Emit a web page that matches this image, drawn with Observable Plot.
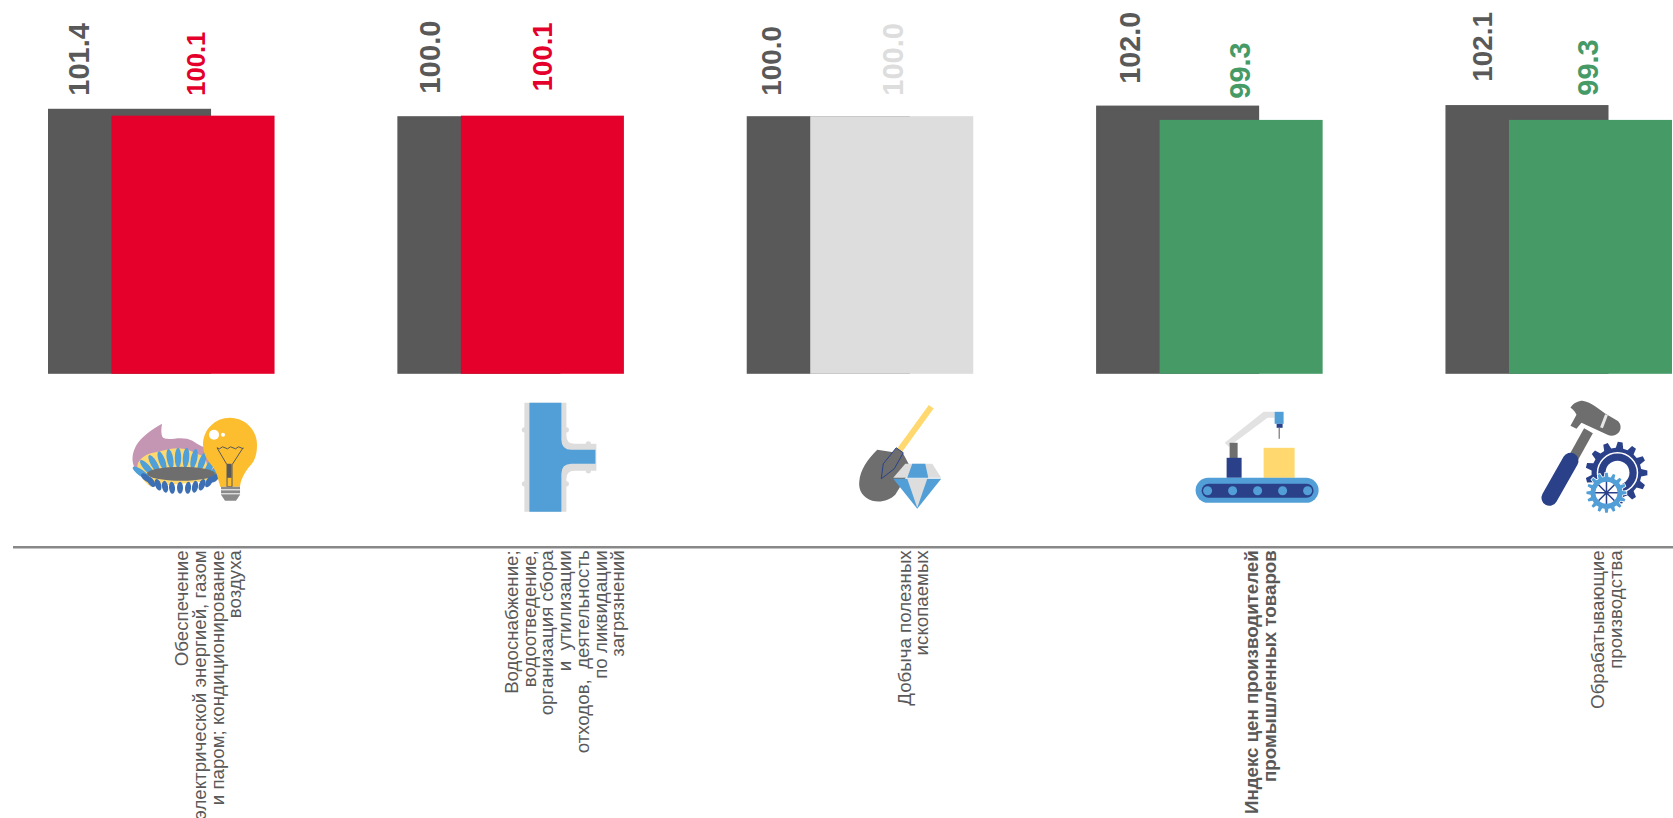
<!DOCTYPE html>
<html><head><meta charset="utf-8">
<style>html,body{margin:0;padding:0;background:#fff;overflow:hidden}svg{display:block}</style>
<script src="https://cdn.jsdelivr.net/npm/d3@7"></script>
<script src="https://cdn.jsdelivr.net/npm/@observablehq/plot@0.6"></script>
</head><body><script>
const categories = ["electricity","water","mining","total","manufacturing"];
const previousValues = [101.4,100.0,100.0,102.0,102.1];
const currentValues = [100.1,100.1,100.0,99.3,99.3];
const previousLabels = ["101.4","100.0","100.0","102.0","102.1"];
const currentLabels = ["100.1","100.1","100.0","99.3","99.3"];
const axisLabels = [
 "Обеспечение\nэлектрической энергией, газом\nи паром; кондиционирование\nвоздуха",
 "Водоснабжение;\nводоотведение,\nорганизация сбора\nи\u00a0\u00a0утилизации\nотходов,\u00a0\u00a0деятельность\nпо ликвидации\nзагрязнений",
 "Добыча полезных\nископаемых",
 "Индекс цен производителей\nпромышленных товаров",
 "Обрабатывающие\nпроизводства"];
const dark="#595959", red="#e4002b", light="#dddddd", green="#459a66";
const barColor = v => v>100?red:v<100?green:light;
const baseValue = 51.42;

// decorative icon helpers
function gear(cx,cy,ro,ri,n){
  const pts=[];
  for(let k=0;k<n;k++){
    const a=k/n*2*Math.PI, w=Math.PI/n;
    [[-0.62,ri],[-0.32,ro],[0.32,ro],[0.62,ri]].forEach(([f,r])=>{
      const t=a+f*w; pts.push((cx+r*Math.cos(t)).toFixed(1)+" "+(cy+r*Math.sin(t)).toFixed(1));
    });
  }
  return "M"+pts.join("L")+"Z";
}
const upperFlames=[[141,472,-55],[147,467,-42],[154,463,-30],[162,460,-20],[170,458,-10],[178,457,0],[186,457,5],[194,458,12],[202,461,20],[210,465,30],[216,469,40]]
  .map(([x,y,r])=>`<ellipse cx="${x}" cy="${y}" rx="3.2" ry="10" fill="#4f9fd8" transform="rotate(${r} ${x} ${y})"/>`).join("");
const lowerFlames=[[146,477,-50],[151,481,-35],[158,484,-20],[165,486,-10],[172,487,-5],[180,487,0],[188,487,5],[195,486,10],[202,484,20],[209,481,30],[215,477,45]]
  .map(([x,y,r])=>`<ellipse cx="${x}" cy="${y}" rx="3" ry="6" fill="#3d6fb4" transform="rotate(${r} ${x} ${y})"/>`).join("");
const icons = [
`<svg xmlns="http://www.w3.org/2000/svg" viewBox="130 400 140 110"><path d="M162 423c-1 6 -1 11 1 14 6 3 14 -1 24 1 8 2 12 8 20 9l8 30-60 6c-8-2-16-8-20-15-4-8 -3 -15 1-23 5-9 17-17 26-22z" fill="#c596b3"/><path d="M138 462c4-6 9-9 15-10 10-2 20-6 30-4 8 1 14 6 22 8l6 24-60 6c-5-3-9-8-12-14-2-4-2-7-1-10z" fill="#ffd970"/>${upperFlames}<ellipse cx="181" cy="473" rx="34" ry="7" fill="#6e6e6e"/>${lowerFlames}<path d="M230 417c-15 0-27 12-27 27 0 9 4 15 9 21 3 4 5 8 6 13 1 4 2 6 2 8h20c0-3 1-5 2-8 2-5 5-10 9-14 5-6 6-13 6-20 0-15-12-27-27-27z" fill="#fcbd2f"/><circle cx="214" cy="434" r="5" fill="#fff"/><circle cx="223" cy="434" r="2" fill="#fff"/><path d="M217 447q3 2 4 0t4 0 4 0 4 0 4 0 4 0 2 0l-11 17v22h-5v-22z" fill="none" stroke="#595959" stroke-width="1"/><rect x="227" y="463" width="4.5" height="14" fill="#595959"/><path d="M221 486h19v8l-4 6h-11l-4-6z" fill="#8a8a8a"/><path d="M220 489h20M220 493h20" stroke="#fff" stroke-width="1"/></svg>`,
`<svg xmlns="http://www.w3.org/2000/svg" viewBox="510 395 100 120"><path d="M524 402h42v33q0 8 8 8h22v27h-22q-8 0-8 8v33h-42z" fill="#dddddd"/><circle cx="524" cy="429" r="2.6" fill="#dddddd"/><circle cx="566" cy="429" r="2.6" fill="#dddddd"/><circle cx="524" cy="483" r="2.6" fill="#dddddd"/><circle cx="566" cy="483" r="2.6" fill="#dddddd"/><circle cx="588" cy="443" r="2.6" fill="#dddddd"/><circle cx="588" cy="470" r="2.6" fill="#dddddd"/><path d="M529 402h32v37q0 10 10 10h24v14h-24q-10 0-10 10v38h-32z" fill="#529fd8"/></svg>`,
`<svg xmlns="http://www.w3.org/2000/svg" viewBox="850 395 100 120"><path d="M899 450l32-44" stroke="#ffd970" stroke-width="6"/><path d="M877 449l26 4 8 15-16 26c-6 6-15 8-23 6-9-3-14-10-13-19 1-12 8-22 18-32z" fill="#6e6e6e"/><path d="M896 447l7 5-9 16-13 10 2-15z" fill="#6e6e6e" stroke="#2a418a" stroke-width="1"/><path d="M905 463h27l9 14h-48z" fill="#dddddd"/><path d="M912 463h13l3 14h-21z" fill="#529fd8"/><path d="M893 478h48l-24 30z" fill="#529fd8"/><path d="M907 478h20l-10 29z" fill="#dddddd"/></svg>`,
`<svg xmlns="http://www.w3.org/2000/svg" viewBox="1180 395 160 120"><path d="M1224 442l39-31h11v6h-7l-39 29z" fill="#e2e2e2"/><rect x="1229" y="442" width="8" height="16" fill="#6e6e6e"/><rect x="1226" y="457" width="15" height="20" fill="#2a418a"/><rect x="1274" y="411" width="9" height="12" fill="#529fd8"/><rect x="1276" y="423" width="6" height="4" fill="#2a418a"/><rect x="1278" y="427" width="1.2" height="11" fill="#777"/><rect x="1263" y="447" width="31" height="30" fill="#ffd970"/><rect x="1195" y="477" width="123" height="25" rx="12.5" fill="#529fd8"/><rect x="1201" y="483" width="112" height="14" rx="7" fill="#2a418a"/><g fill="#529fd8"><circle cx="1207" cy="490" r="4.5"/><circle cx="1232" cy="490" r="4.5"/><circle cx="1257" cy="490" r="4.5"/><circle cx="1282" cy="490" r="4.5"/><circle cx="1307" cy="490" r="4.5"/></g></svg>`,
`<svg xmlns="http://www.w3.org/2000/svg" viewBox="1525 395 148 120"><path d="M1573 457l15-27" stroke="#6e6e6e" stroke-width="10"/><path d="M1549 497l21-37" stroke="#2a418a" stroke-width="16" stroke-linecap="round"/><path d="M1570 407c3-5 8-7 12-7 8 1 16 8 23 13l12 7c4 3 4 9 1 12-3 3-7 4-11 2l-26-12-5 6-6-3 6-11c-2-4-4-6-6-7z" fill="#6e6e6e"/><path d="M1606 414l-5 13" stroke="#e6e6e6" stroke-width="3"/><path d="${gear(1616,472,31,25,13)}" fill="#2a418a"/><circle cx="1617" cy="472" r="20" fill="none" stroke="#fff" stroke-width="1.5"/><circle cx="1617" cy="472" r="12" fill="#fff"/><path d="${gear(1606,492,20,16,16)}" fill="#fff" stroke="#fff" stroke-width="1.5"/><path d="${gear(1606,492,20,16,16)}" fill="#529fd8"/><circle cx="1606" cy="492" r="11.5" fill="#fff"/><path d="M1594 492h24M1606 480v24M1598 484l16 16M1614 484l-16 16" stroke="#2a418a" stroke-width="1.5"/><circle cx="1606" cy="492" r="12" fill="none" stroke="#529fd8" stroke-width="2"/></svg>`
];
const iconData = categories.map((c,i)=>({c, src:"data:image/svg+xml;charset=utf-8,"+encodeURIComponent(icons[i])}));
const iconSize = [[140,110],[100,120],[100,120],[160,120],[148,120]];
const iconDx = [70,81,71.5,82.5,72];

const rows = categories.map((c,i)=>({c,prev:previousValues[i],cur:currentValues[i],pl:previousLabels[i],cl:currentLabels[i],axis:axisLabels[i]}));
const barOffset = 63.5;

const prevLabelDx=[-50.5,-48.75,-57,-47.25,-44], prevLabelDy=[-13.6,-23,-21,-22.4,-23.9], prevLabelSize=[29,29.3,27.8,28.8,27.8];
const curLabelDx=[3.5,0.25,1,-1,-2], curLabelDy=[-20.5,-25,-21,-21.7,-24.7], curLabelSize=[25.5,27.5,29,29,29];
const axisDx=[79,86,85,83,79.5];

const marks = [
  Plot.barY(rows,{x:"c",y1:()=>baseValue,y2:"prev",fill:dark}),
  Plot.barY(rows,{x:"c",y1:()=>baseValue,y2:"cur",fill:d=>barColor(d.cur),dx:barOffset}),
  Plot.ruleY([baseValue],{dy:173,stroke:"#888",strokeWidth:2.5}),
];
rows.forEach((d,i)=>{
  marks.push(Plot.text([d],{x:"c",y:"prev",text:"pl",rotate:-90,textAnchor:"start",lineAnchor:"middle",fontFamily:"Liberation Sans",fontWeight:"bold",fontSize:prevLabelSize[i],fill:dark,dx:prevLabelDx[i],dy:prevLabelDy[i]}));
  marks.push(Plot.text([d],{x:"c",y:"cur",text:"cl",rotate:-90,textAnchor:"start",lineAnchor:"middle",fontFamily:"Liberation Sans",fontWeight:"bold",fontSize:curLabelSize[i],fill:barColor(d.cur),dx:barOffset+curLabelDx[i],dy:curLabelDy[i]}));
  marks.push(Plot.text([d],{x:"c",y:()=>baseValue,text:"axis",rotate:-90,textAnchor:"end",lineAnchor:"middle",lineHeight:0.95,fontFamily:"Liberation Sans",fontWeight:i===3?"bold":"normal",fontSize:18.7,fill:dark,dx:axisDx[i],dy:176}));
  marks.push(Plot.image([iconData[i]],{x:"c",y:()=>baseValue,src:"src",width:iconSize[i][0],height:iconSize[i][1],dx:iconDx[i],dy:81.5}));
});

const chart = Plot.plot({
  width:1673,height:818,marginLeft:13,marginRight:0,marginTop:0,marginBottom:0,
  style:{background:"#fff",overflow:"hidden"},
  x:{domain:categories,range:[48,1608.5],paddingInner:0.5333,paddingOuter:0,align:0,axis:null,round:false},
  y:{domain:[baseValue,100],range:[373.8,116.2],axis:null},
  marks
});
document.body.appendChild(chart);
</script></body></html>
